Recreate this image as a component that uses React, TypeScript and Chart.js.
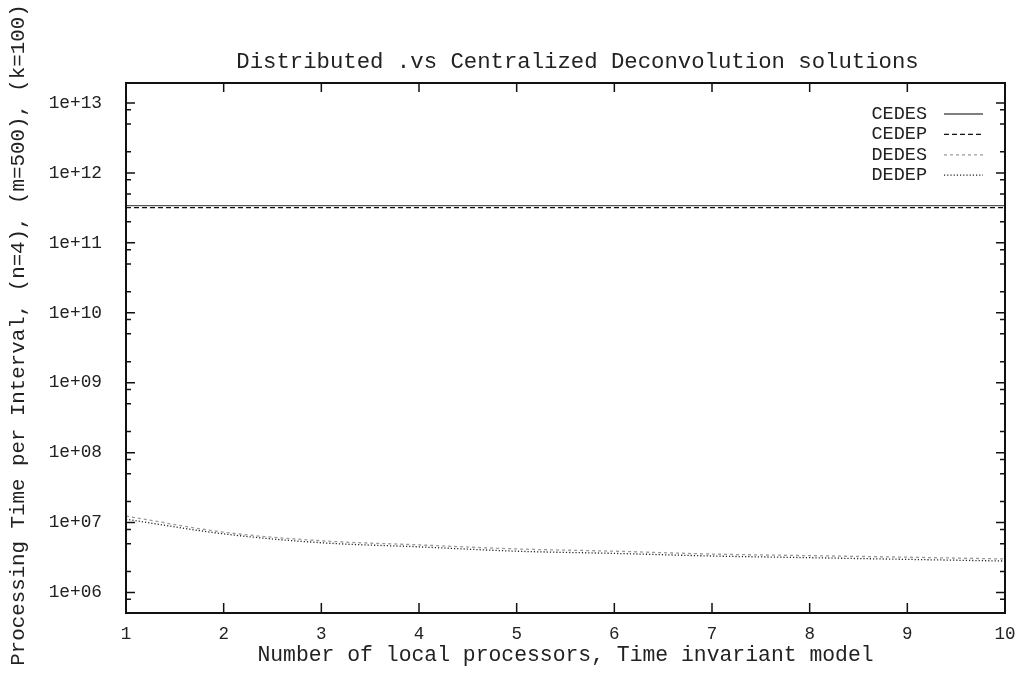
import React, { useEffect, useRef } from 'react';
import { Chart, registerables } from 'chart.js';
Chart.register(...registerables);

const xValues = [1, 2, 3, 4, 5, 6, 7, 8, 9, 10];
const cedes = [3.4e11, 3.4e11, 3.4e11, 3.4e11, 3.4e11, 3.4e11, 3.4e11, 3.4e11, 3.4e11, 3.4e11];
const cedep = [3.18e11, 3.18e11, 3.18e11, 3.18e11, 3.18e11, 3.18e11, 3.18e11, 3.18e11, 3.18e11, 3.18e11];
const dedes = [1.24e7, 7.3e6, 5.5e6, 4.8e6, 4.2e6, 3.9e6, 3.55e6, 3.37e6, 3.2e6, 3.02e6];
const dedep = [1.12e7, 6.9e6, 5.15e6, 4.5e6, 3.9e6, 3.63e6, 3.33e6, 3.15e6, 2.98e6, 2.82e6];
const seriesLabels = ['CEDES', 'CEDEP', 'DEDES', 'DEDEP'];
const yTickValues = [1e6, 1e7, 1e8, 1e9, 1e10, 1e11, 1e12, 1e13];
const yMinorMultipliers = [2, 5, 8];
const titleText = 'Distributed .vs Centralized Deconvolution solutions';
const xTitleText = 'Number of local processors, Time invariant model';
const yTitleText = 'Processing Time per Interval, (n=4), (m=500), (k=100)';

const FONT = "'Liberation Mono', 'DejaVu Sans Mono', monospace";

const decorPlugin = {
  id: 'decor',
  afterDatasetsDraw(chart: any) {
    const { ctx, chartArea: a, scales } = chart;
    const xs = scales.x;
    const ys = scales.y;
    ctx.save();
    ctx.strokeStyle = '#111';
    ctx.lineWidth = 1.5;
    ctx.setLineDash([]);
    ctx.beginPath();
    for (const v of xValues) {
      const px = xs.getPixelForValue(v);
      ctx.moveTo(px, a.bottom);
      ctx.lineTo(px, a.bottom - 10);
      ctx.moveTo(px, a.top);
      ctx.lineTo(px, a.top + 9);
    }
    for (const v of yTickValues) {
      const py = ys.getPixelForValue(v);
      ctx.moveTo(a.left, py);
      ctx.lineTo(a.left + 9, py);
      ctx.moveTo(a.right, py);
      ctx.lineTo(a.right - 9, py);
    }
    const minV = ys.min;
    const maxV = ys.max;
    for (let k = 4; k <= 13; k++) {
      for (const m of yMinorMultipliers) {
        const v = m * Math.pow(10, k);
        if (v <= minV || v >= maxV) continue;
        const py = ys.getPixelForValue(v);
        ctx.moveTo(a.left, py);
        ctx.lineTo(a.left + 5, py);
        ctx.moveTo(a.right, py);
        ctx.lineTo(a.right - 5, py);
      }
    }
    ctx.stroke();
    // frame
    ctx.lineWidth = 2;
    ctx.strokeRect(a.left, a.top, a.right - a.left, a.bottom - a.top);

    // legend
    ctx.font = `18.5px ${FONT}`;
    ctx.textAlign = 'right';
    ctx.textBaseline = 'middle';
    chart.data.datasets.forEach((ds: any, i: number) => {
      const y = a.top + 31 + i * 20.4;
      ctx.fillStyle = '#222';
      ctx.fillText(ds.label, a.right - 78, y);
      ctx.strokeStyle = ds.borderColor;
      ctx.lineWidth = ds.borderWidth;
      ctx.setLineDash(ds.borderDash || []);
      ctx.beginPath();
      ctx.moveTo(a.right - 61, y);
      ctx.lineTo(a.right - 22, y);
      ctx.stroke();
    });
    ctx.setLineDash([]);

    // chart title
    ctx.font = `22.3px ${FONT}`;
    ctx.fillStyle = '#222';
    ctx.textAlign = 'center';
    ctx.textBaseline = 'middle';
    ctx.fillText(titleText, (a.left + a.right) / 2 + 12, 62);

    // y axis title
    ctx.save();
    ctx.translate(18, 335);
    ctx.rotate(-Math.PI / 2);
    ctx.font = `20.8px ${FONT}`;
    ctx.fillStyle = '#222';
    ctx.textAlign = 'center';
    ctx.textBaseline = 'middle';
    ctx.fillText(yTitleText, 0, 0);
    ctx.restore();
    ctx.restore();
  },
};

export default function App() {
  const ref = useRef<HTMLCanvasElement | null>(null);
  useEffect(() => {
    if (!ref.current) return;
    const mk = (vals: number[]) => xValues.map((x, i) => ({ x, y: vals[i] }));
    const chart = new Chart(ref.current, {
      type: 'line',
      data: {
        datasets: [
          { label: seriesLabels[0], data: mk(cedes), borderColor: '#555', borderWidth: 1.3, borderDash: [], pointRadius: 0, fill: false },
          { label: seriesLabels[1], data: mk(cedep), borderColor: '#111', borderWidth: 1.3, borderDash: [5, 3], pointRadius: 0, fill: false },
          { label: seriesLabels[2], data: mk(dedes), borderColor: '#999', borderWidth: 1.3, borderDash: [3, 3], pointRadius: 0, fill: false, cubicInterpolationMode: 'monotone' },
          { label: seriesLabels[3], data: mk(dedep), borderColor: '#222', borderWidth: 1.3, borderDash: [1.2, 2], pointRadius: 0, fill: false, cubicInterpolationMode: 'monotone' },
        ],
      },
      options: {
        responsive: false,
        animation: false,
        layout: { padding: { left: 0, right: 13, top: 83, bottom: 0 } },
        plugins: {
          legend: { display: false },
          tooltip: { enabled: false },
          title: { display: false },
        },
        scales: {
          x: {
            type: 'linear',
            min: 1,
            max: 10,
            grid: { display: false },
            border: { display: false },
            ticks: { stepSize: 1, color: '#222', padding: 3, font: { family: FONT, size: 17.5 } },
            title: {
              display: true,
              text: xTitleText,
              color: '#222',
              font: { family: FONT, size: 21.4 },
              padding: { top: 0, bottom: 17 },
            },
            afterFit: (s: any) => { s.height = 72; s.paddingLeft = 0; s.paddingRight = 0; },
          },
          y: {
            type: 'logarithmic',
            min: 5.1e5,
            max: 1.93e13,
            grid: { display: false },
            border: { display: false },
            ticks: {
              color: '#222',
              padding: 16,
              font: { family: FONT, size: 17.8 },
              callback: (v: any) => '1e+' + String(Math.round(Math.log10(Number(v)))).padStart(2, '0'),
            },
            afterBuildTicks: (s: any) => { s.ticks = yTickValues.map((v) => ({ value: v })); },
            afterFit: (s: any) => { s.width = 126; s.paddingTop = 0; s.paddingBottom = 0; },
          },
        },
      },
      plugins: [decorPlugin],
    } as any);
    return () => chart.destroy();
  }, []);
  return (
    <div style={{ position: 'absolute', left: 0, top: 0, width: 1018, height: 685, background: '#fff' }}>
      <canvas ref={ref} width={1018} height={685} />
    </div>
  );
}
